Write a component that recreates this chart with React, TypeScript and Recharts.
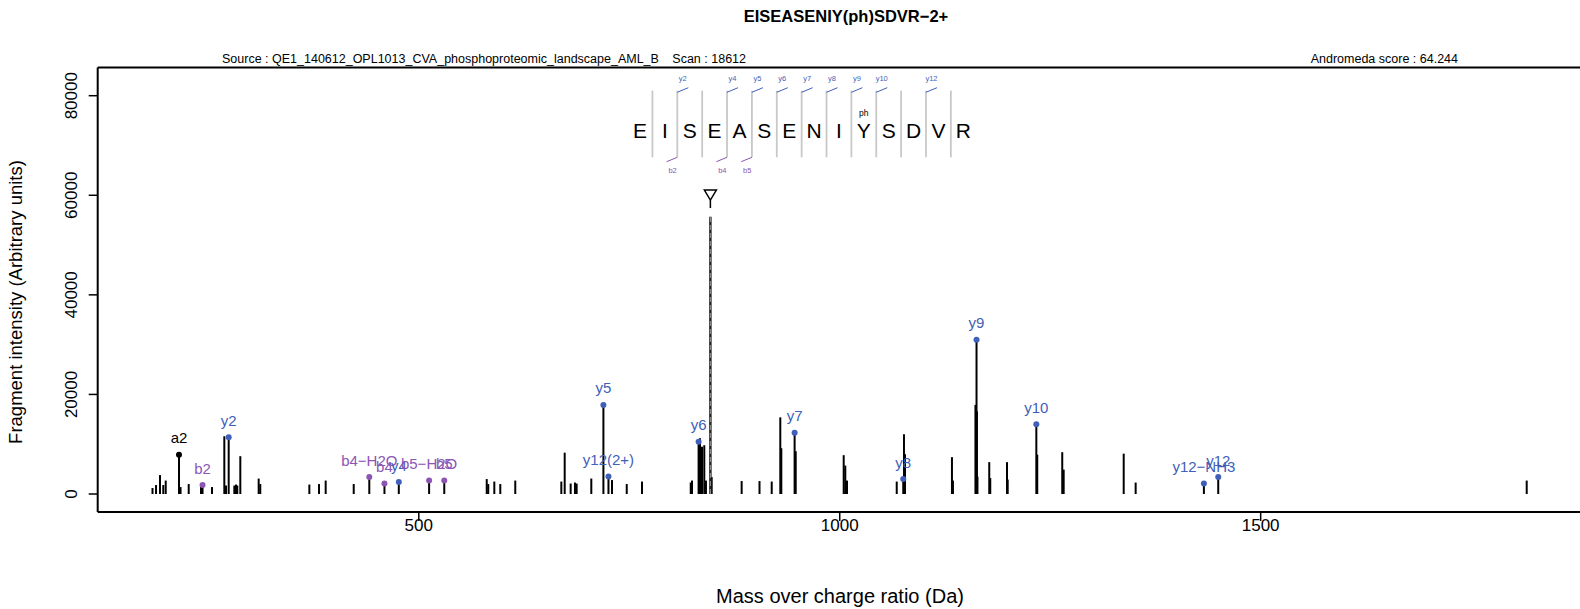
import React from 'react';
import { ComposedChart, XAxis, YAxis, Scatter, ReferenceLine, ReferenceDot } from 'recharts';

const FONT = '"Liberation Sans", Arial, Helvetica, sans-serif';
const Y_COL = '#3F5FB8';
const B_COL = '#8C55B4';
const A_COL = '#000000';

// unassigned fragment peaks
const peakMz = [
  183.7, 187.9, 192.6, 196.5, 199.4, 217.0, 226.7, 241.3, 254.4, 269.0, 271.0, 280.9, 282.9, 284.4, 288.0,
  309.8, 311.7, 370.0, 381.5, 389.4, 422.7, 580.7, 582.5, 589.7, 596.8, 614.6, 669.3, 673.3, 680.4, 685.5,
  687.5, 704.9, 729.5, 747.0, 765.1, 823.0, 824.5, 834.0, 836.4, 839.1, 841.1, 847.9, 883.5, 904.7, 919.2,
  929.4, 930.6, 947.7, 1004.7, 1006.6, 1008.6, 1067.7, 1076.3, 1077.5, 1133.3, 1134.5, 1161.2, 1163.0, 1163.6,
  1177.6, 1178.8, 1198.7, 1199.5, 1234.6, 1264.3, 1266.0, 1337.3, 1351.5, 1816.0,
];
const peakInt = [
  1200, 1800, 3800, 1800, 2700, 1400, 2000, 2000, 1400, 11600, 1700, 1700, 1900, 1700, 7600,
  3100, 2000, 1900, 2000, 2700, 2000, 3000, 2000, 2500, 2000, 2700, 2500, 8300, 2100, 2300,
  2100, 3100, 2800, 2000, 2500, 2300, 2700, 11200, 9500, 9800, 2700, 3400, 2600, 2600, 2500,
  15400, 9200, 8600, 7800, 5700, 2700, 2500, 12000, 8000, 7400, 2700, 17900, 16600, 3500,
  6400, 3200, 6400, 2900, 7900, 8400, 4900, 8100, 2300, 2700,
];

// assigned fragments
const ionLabel = ['a2', 'b2', 'y2', 'b4\u2212H2O', 'b4', 'y4', 'b5\u2212H2O', 'b5', 'y5', 'y12(2+)', 'y6', 'y7', 'y8', 'y9', 'y10', 'y12\u2212NH3', 'y12'];
const ionMz = [215.14, 243.13, 274.19, 441.2, 459.21, 476.25, 512.24, 530.25, 719.28, 725.3, 832.36, 946.4, 1075.45, 1162.48, 1233.52, 1432.56, 1449.59];
const ionInt = [7900, 1800, 11400, 3400, 2100, 2400, 2700, 2700, 17900, 3500, 10500, 12300, 3000, 31000, 14000, 2100, 3400];
const ionType = ['a', 'b', 'y', 'b', 'b', 'y', 'b', 'b', 'y', 'y', 'y', 'y', 'y', 'y', 'y', 'y', 'y'];

const precursorMz = 846.36;
const precursorInt = 55700;

const sequence = ['E', 'I', 'S', 'E', 'A', 'S', 'E', 'N', 'I', 'Y', 'S', 'D', 'V', 'R'];
const phosphoSite = 9;
const yMarkLabel = ['y2', 'y4', 'y5', 'y6', 'y7', 'y8', 'y9', 'y10', 'y12'];
const yMarkSite = [1, 3, 4, 5, 6, 7, 8, 9, 11];
const bMarkLabel = ['b2', 'b4', 'b5'];
const bMarkSite = [1, 3, 4];

const xTicks = [500, 1000, 1500];
const yTicks = [0, 20000, 40000, 60000, 80000];

// layout (data units)
const X_DOMAIN = [118.6, 1879.3];
const Y_DOMAIN = [-3615, 85665];
const SEQ_X0 = 762.75;
const SEQ_STEP = 29.54;
const LETTER_Y = 71440;
const PH_Y = 76020;
const SEP_TOP = 81006;
const SEP_BOT = 67630;

const colorOf = (t: string) => (t === 'y' ? Y_COL : t === 'b' ? B_COL : A_COL);

const ionData = ionMz.map((mz, i) => ({ mz, v: ionInt[i], label: ionLabel[i], color: colorOf(ionType[i]) }));
const letterData = sequence.map((l, i) => ({ mz: SEQ_X0 + i * SEQ_STEP, v: LETTER_Y, letter: l }));
const phData = [{ mz: SEQ_X0 + phosphoSite * SEQ_STEP, v: PH_Y, letter: 'ph' }];
const sepX = (site: number) => SEQ_X0 + (site + 0.5) * SEQ_STEP;
const yLabelData = yMarkLabel.map((l, i) => ({ mz: sepX(yMarkSite[i]) + 6.5, v: 83050, letter: l }));
const bLabelData = bMarkLabel.map((l, i) => ({ mz: sepX(bMarkSite[i]) - 5.6, v: 64375, letter: l }));

const IonDot = (props: any) => {
  const { cx, cy, payload } = props;
  return (
    <g>
      <circle cx={cx} cy={cy} r={3} fill={payload.color} />
      <text x={cx} y={cy - 11.5} textAnchor="middle" fontSize={15} fill={payload.color} fontFamily={FONT}>
        {payload.label}
      </text>
    </g>
  );
};

const textShape = (size: number, fill: string) => (props: any) => {
  const { cx, cy, payload } = props;
  return (
    <text x={cx} y={cy} textAnchor="middle" fontSize={size} fill={fill} fontFamily={FONT}>
      {payload.letter}
    </text>
  );
};

const YTick = (props: any) => {
  const { x, y, payload } = props;
  const tx = x - 9.5;
  return (
    <text x={tx} y={y} transform={`rotate(-90 ${tx} ${y})`} textAnchor="middle" fontSize={17} fill="#000" fontFamily={FONT}>
      {payload.value}
    </text>
  );
};

const XTick = (props: any) => {
  const { x, y, payload } = props;
  return (
    <text x={x} y={y + 8} textAnchor="middle" fontSize={17} fill="#000" fontFamily={FONT}>
      {payload.value}
    </text>
  );
};

const Triangle = (props: any) => {
  const { cx, cy } = props;
  return <path d={`M${cx - 6},${cy - 5} L${cx + 6},${cy - 5} L${cx},${cy + 5} Z`} fill="none" stroke="#000" strokeWidth={1.5} />;
};

export default function App() {
  return (
    <div style={{ position: 'absolute', left: 0, top: 0, width: 1580, height: 609, background: '#fff', fontFamily: FONT }}>
      <ComposedChart width={1580} height={609} margin={{ top: 67.5, right: 0, left: 0, bottom: 0 }}>
        <XAxis
          dataKey="mz"
          type="number"
          domain={X_DOMAIN}
          allowDataOverflow
          ticks={xTicks}
          tick={<XTick />}
          tickSize={9}
          height={97}
          axisLine={{ stroke: '#000', strokeWidth: 2 }}
          tickLine={{ stroke: '#000', strokeWidth: 1.5 }}
        />
        <YAxis
          type="number"
          domain={Y_DOMAIN}
          allowDataOverflow
          ticks={yTicks}
          tick={<YTick />}
          tickSize={9}
          width={97.7}
          axisLine={{ stroke: '#000', strokeWidth: 2 }}
          tickLine={{ stroke: '#000', strokeWidth: 1.5 }}
        />
        <ReferenceLine y={Y_DOMAIN[1]} stroke="#000" strokeWidth={2} />

        {peakMz.map((mz, i) => (
          <ReferenceLine key={`p${i}`} segment={[{ x: mz, y: 0 }, { x: mz, y: peakInt[i] }]} stroke="#000" strokeWidth={2} />
        ))}
        {ionMz.map((mz, i) => (
          <ReferenceLine key={`i${i}`} segment={[{ x: mz, y: 0 }, { x: mz, y: ionInt[i] }]} stroke="#000" strokeWidth={2} />
        ))}
        <ReferenceLine segment={[{ x: precursorMz, y: 0 }, { x: precursorMz, y: precursorInt }]} stroke="#222" strokeWidth={2.5} />
        <ReferenceLine segment={[{ x: precursorMz, y: 0 }, { x: precursorMz, y: precursorInt }]} stroke="#8a8a8a" strokeWidth={1.2} strokeDasharray="5 3" />
        <ReferenceLine segment={[{ x: precursorMz, y: 57430 }, { x: precursorMz, y: 59040 }]} stroke="#000" strokeWidth={1.5} />
        <ReferenceDot x={precursorMz} y={60050} shape={<Triangle />} />

        {/* peptide sequence with fragment coverage */}
        {sequence.slice(1).map((_, i) => (
          <ReferenceLine key={`s${i}`} segment={[{ x: sepX(i), y: SEP_BOT }, { x: sepX(i), y: SEP_TOP }]} stroke="#c8c8c8" strokeWidth={1.8} />
        ))}
        {yMarkSite.map((s, i) => (
          <ReferenceLine key={`ym${i}`} segment={[{ x: sepX(s), y: 80690 }, { x: sepX(s) + 13.07, y: 81610 }]} stroke={Y_COL} strokeWidth={1} />
        ))}
        {bMarkSite.map((s, i) => (
          <ReferenceLine key={`bm${i}`} segment={[{ x: sepX(s), y: SEP_BOT }, { x: sepX(s) - 12.7, y: 66745 }]} stroke={B_COL} strokeWidth={1} />
        ))}
        <Scatter data={letterData} dataKey="v" isAnimationActive={false} shape={textShape(21, '#000')} />
        <Scatter data={phData} dataKey="v" isAnimationActive={false} shape={textShape(8.5, '#000')} />
        <Scatter data={yLabelData} dataKey="v" isAnimationActive={false} shape={textShape(7.5, Y_COL)} />
        <Scatter data={bLabelData} dataKey="v" isAnimationActive={false} shape={textShape(7.5, B_COL)} />

        <Scatter data={ionData} dataKey="v" isAnimationActive={false} shape={<IonDot />} />
      </ComposedChart>

      <svg width={1580} height={609} style={{ position: 'absolute', left: 0, top: 0, pointerEvents: 'none' }}>
        <text x={846} y={22} textAnchor="middle" fontSize={16.5} fontWeight="bold" fontFamily={FONT}>EISEASENIY(ph)SDVR{'\u2212'}2+</text>
        <text x={222} y={63} fontSize={12.5} fontFamily={FONT}>Source : QE1_140612_OPL1013_CVA_phosphoproteomic_landscape_AML_B</text>
        <text x={746} y={63} textAnchor="end" fontSize={12.5} fontFamily={FONT}>Scan : 18612</text>
        <text x={1458} y={63} textAnchor="end" fontSize={12.5} fontFamily={FONT}>Andromeda score : 64.244</text>
        <text x={840} y={603} textAnchor="middle" fontSize={20} fontFamily={FONT}>Mass over charge ratio (Da)</text>
        <text x={22} y={302} transform="rotate(-90 22 302)" textAnchor="middle" fontSize={18.5} fontFamily={FONT}>Fragment intensity (Arbitrary units)</text>
      </svg>
    </div>
  );
}
